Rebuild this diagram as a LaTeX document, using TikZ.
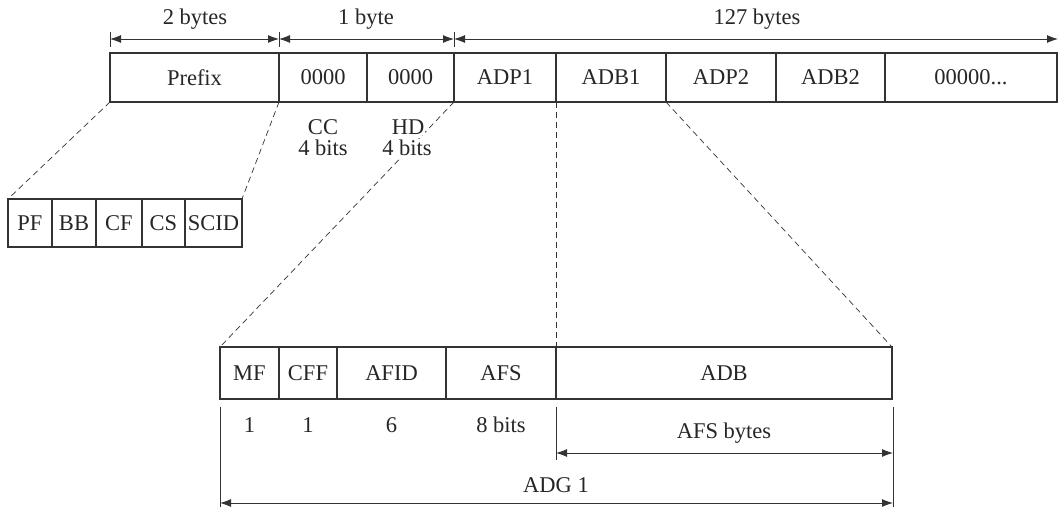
\documentclass[tikz,border=0pt]{standalone}
\usepackage{fontspec}
\setmainfont{Liberation Serif}
\usetikzlibrary{arrows.meta}
\begin{document}
\begin{tikzpicture}[x=1pt,y=-1pt,
  every node/.style={font=\fontsize{22.5}{26}\selectfont, text=black!85},
  cell/.style={draw=black!80, line width=1.2pt, rectangle, inner sep=0pt, outer sep=0pt, anchor=north west},
  lbl/.style={inner sep=1pt},
  lblw/.style={inner sep=1pt, fill=white},
  guide/.style={draw=black!80, line width=0.7pt, dash pattern=on 6pt off 4pt},
  dim/.style={draw=black!80, line width=0.9pt, {Latex[length=11pt,width=8pt]}-{Latex[length=11pt,width=8pt]}},
  tick/.style={draw=black!80, line width=1pt}]
\useasboundingbox (0,0) rectangle (1059,508);

% top row
\node[cell, minimum width=169pt, minimum height=49pt] (prefix) at (110,53) {Prefix};
\node[cell, minimum width=88pt,  minimum height=49pt] (cc)     at (279,53) {0000};
\node[cell, minimum width=87pt,  minimum height=49pt] (hd)     at (367,53) {0000};
\node[cell, minimum width=102pt, minimum height=49pt] (adp1)   at (454,53) {ADP1};
\node[cell, minimum width=110pt, minimum height=49pt] (adb1)   at (556,53) {ADB1};
\node[cell, minimum width=110pt, minimum height=49pt] (adp2)   at (666,53) {ADP2};
\node[cell, minimum width=109pt, minimum height=49pt] (adb2)   at (776,53) {ADB2};
\node[cell, minimum width=172pt, minimum height=49pt] (zeros)  at (885,53) {00000...};

% prefix breakdown
\node[cell, minimum width=44pt, minimum height=48pt] (pf)   at (8,199)   {PF};
\node[cell, minimum width=44pt, minimum height=48pt] (bb)   at (52,199)  {BB};
\node[cell, minimum width=46pt, minimum height=48pt] (cf)   at (96,199)  {CF};
\node[cell, minimum width=43pt, minimum height=48pt] (cs)   at (142,199) {CS};
\node[cell, minimum width=57pt, minimum height=48pt] (scid) at (185,199) {SCID};

% ADG breakdown
\node[cell, minimum width=59pt,  minimum height=52pt] (mf)   at (220,347) {MF};
\node[cell, minimum width=58pt,  minimum height=52pt] (cff)  at (279,347) {CFF};
\node[cell, minimum width=109pt, minimum height=52pt] (afid) at (337,347) {AFID};
\node[cell, minimum width=110pt, minimum height=52pt] (afs)  at (446,347) {AFS};
\node[cell, minimum width=336pt, minimum height=52pt] (adb)  at (556,347) {ADB};

% dashed guides
\draw[guide] (prefix.south west) -- (pf.north west);
\draw[guide] (prefix.south east) -- (scid.north east);
\draw[guide] (hd.south east) -- (mf.north west);
\draw[guide] (adb1.south west) -- (adb.north west);
\draw[guide] (adb1.south east) -- (adb.north east);

% CC / HD labels
\node[lblw] (cclbl) at (323,127) {CC};
\node[lblw] (ccbits) at (323,148) {4 bits};
\node[lblw] (hdlbl) at (408,127) {HD};
\node[lblw] (hdbits) at (407,148) {4 bits};

% top dimension lines
\coordinate (t0) at (110,39);
\coordinate (t1) at (279,39);
\coordinate (t2) at (454,39);
\coordinate (t3) at (1058,39);
\draw[tick] (110,32) -- (110,47);
\draw[tick] (279,32) -- (279,47);
\draw[tick] (454,32) -- (454,47);
\draw[dim] (t0) -- (t1);
\draw[dim] (t1) -- (t2);
\draw[dim] (t2) -- (t3);
\node[lbl] (d2) at (195,19) {2 bytes};
\node[lbl] (d1) at (366,19) {1 byte};
\node[lbl] (d127) at (757,19) {127 bytes};

% bottom labels
\node[lbl] (b1) at (249.5,425) {1};
\node[lbl] (b2) at (308,425) {1};
\node[lbl] (b3) at (391.5,425) {6};
\node[lbl] (b4) at (501,425) {8 bits};

% bottom dimension lines
\draw[tick] (220,407) -- (220,507);
\draw[tick] (556,407) -- (556,460);
\draw[tick] (893,407) -- (893,507);
\coordinate (a0) at (556,453);
\coordinate (a1) at (893,453);
\coordinate (g0) at (220,503);
\coordinate (g1) at (893,503);
\draw[dim] (a0) -- (a1);
\draw[dim] (g0) -- (g1);
\node[lbl] (afsb) at (724,433) {AFS bytes};
\node[lbl] (adg) at (556,485) {ADG 1};
\end{tikzpicture}
\end{document}
